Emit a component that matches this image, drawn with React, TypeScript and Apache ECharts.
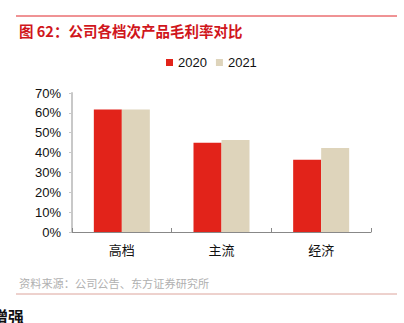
import React, { useEffect, useRef } from "react";
import * as echarts from "echarts";

const categories = ["高档", "主流", "经济"];
const series2020 = [61.7, 45.0, 36.4];
const series2021 = [61.7, 46.3, 42.3];
const seriesNames = ["2020", "2021"];
const yTicks = { min: 0, max: 70, interval: 10 };

export default function App() {
  const ref = useRef<HTMLDivElement>(null);
  useEffect(() => {
    if (!ref.current) return;
    const chart = echarts.init(ref.current, null, { renderer: "svg" });
    const font = "'Liberation Sans', Arial, 'Noto Sans CJK SC', sans-serif";
    chart.setOption({
      animation: false,
      textStyle: { fontFamily: font },
      grid: { left: 72, right: 33, top: 93, bottom: 91, containLabel: false },
      legend: {
        data: seriesNames,
        left: 166,
        top: 56,
        padding: 0,
        itemWidth: 7,
        itemHeight: 7,
        itemGap: 9,
        icon: "rect",
        textStyle: { fontSize: 13, color: "#111", fontFamily: font },
      },
      xAxis: {
        type: "category",
        data: categories,
        axisLine: { lineStyle: { color: "#888", width: 1 } },
        axisTick: { show: true, inside: true, length: 4, lineStyle: { color: "#888" } },
        axisLabel: { fontSize: 13, color: "#111", margin: 11, fontFamily: "'Noto Sans CJK SC', sans-serif" },
      },
      yAxis: {
        type: "value",
        min: yTicks.min,
        max: yTicks.max,
        interval: yTicks.interval,
        axisLine: { show: true, lineStyle: { color: "#c8c8c8", width: 2 } },
        axisTick: { show: true, length: 3, lineStyle: { color: "#c8c8c8", width: 1 } },
        splitLine: { show: false },
        axisLabel: { formatter: "{value}%", fontSize: 13, color: "#111", margin: 11 },
      },
      series: [
        {
          name: seriesNames[0],
          type: "bar",
          data: series2020,
          barWidth: 28,
          barGap: "0%",
          itemStyle: { color: "#e2231a" },
        },
        {
          name: seriesNames[1],
          type: "bar",
          data: series2021,
          barWidth: 28,
          itemStyle: { color: "#ded4bb" },
        },
      ],
      graphic: [
        { type: "line", shape: { x1: 16, y1: 16, x2: 397, y2: 16 }, style: { stroke: "#e0262b", lineWidth: 1 } },
        {
          type: "text",
          x: 19,
          y: 30,
          style: {
            text: "图 62：公司各档次产品毛利率对比",
            fill: "#d0161c",
            font: "bold 14.5px 'Noto Sans CJK SC', sans-serif",
            verticalAlign: "middle",
          },
        },
        {
          type: "text",
          x: 19,
          y: 283,
          style: {
            text: "资料来源：公司公告、东方证券研究所",
            fill: "#b0b0b0",
            font: "11.2px 'Noto Sans CJK SC', sans-serif",
            verticalAlign: "middle",
          },
        },
        { type: "line", shape: { x1: 16, y1: 294, x2: 397, y2: 294 }, style: { stroke: "#dca49c", lineWidth: 1 } },
        {
          type: "text",
          x: -8,
          y: 316,
          style: {
            text: "增强",
            fill: "#111",
            font: "bold 16px 'Noto Sans CJK SC', sans-serif",
            verticalAlign: "middle",
          },
        },
      ],
    });
    return () => chart.dispose();
  }, []);
  return (
    <div style={{ position: "fixed", left: 0, top: 0, width: 404, height: 323, background: "#fff" }}>
      <div ref={ref} style={{ width: 404, height: 323 }} />
    </div>
  );
}
